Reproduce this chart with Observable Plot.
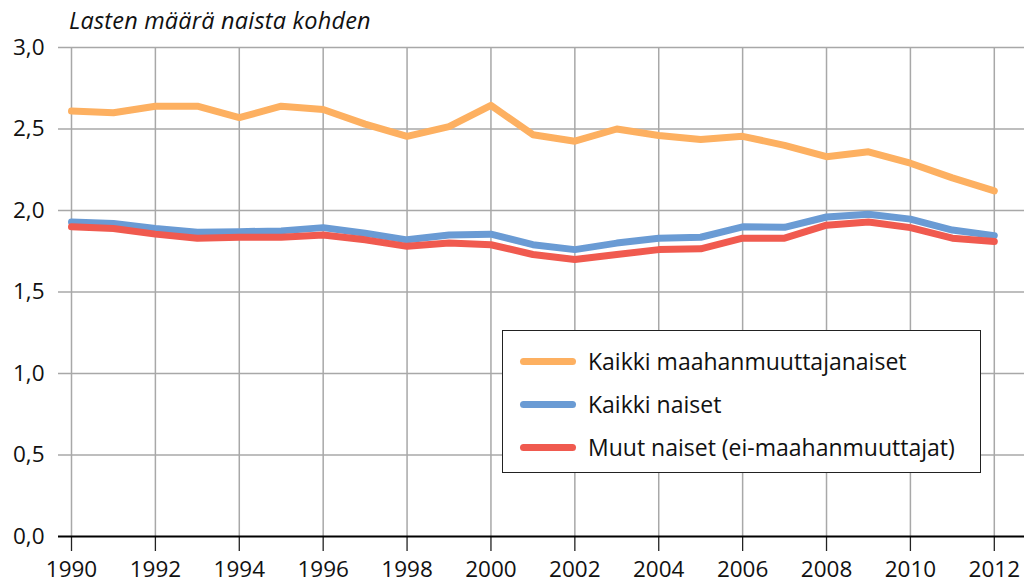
<!DOCTYPE html>
<html>
<head>
<meta charset="utf-8">
<script src="https://cdn.jsdelivr.net/npm/d3@7"></script>
<script src="https://cdn.jsdelivr.net/npm/@observablehq/plot@0.6"></script>
<style>
  html, body { margin: 0; padding: 0; background: #fff; }
  #wrap { position: relative; width: 1024px; height: 586px; font-family: "Open Sans", sans-serif; }
  #title { position: absolute; left: 69px; top: 5px; font-style: italic; font-size: 23.5px; line-height: 30px; color: #111; letter-spacing: 0.2px; }
  #legend { position: absolute; left: 502px; top: 330px; width: 479px; height: 143px; border: 1.5px solid #222; background: #fff; box-sizing: border-box; }
  .row { position: absolute; left: 0; height: 30px; display: flex; align-items: center; font-size: 23px; color: #111; white-space: nowrap; }
  .sw { display: inline-block; width: 56px; height: 7px; border-radius: 4px; margin-left: 17px; margin-right: 12px; }
</style>
</head>
<body>
<div id="wrap">
  <div id="chart"></div>
  <div id="title">Lasten määrä naista kohden</div>
  <div id="legend"></div>
</div>
<script>
const years = [1990,1991,1992,1993,1994,1995,1996,1997,1998,1999,2000,2001,2002,2003,2004,2005,2006,2007,2008,2009,2010,2011,2012];
const seriesNames = ["Kaikki maahanmuuttajanaiset", "Kaikki naiset", "Muut naiset (ei-maahanmuuttajat)"];
const seriesColors = ["#FDB061", "#6A9BD4", "#F05A4F"];
const immigrantWomen = [2.61,2.60,2.64,2.64,2.57,2.64,2.62,2.53,2.455,2.515,2.645,2.465,2.425,2.50,2.46,2.435,2.455,2.40,2.33,2.36,2.29,2.20,2.12];
const allWomen = [1.93,1.92,1.89,1.867,1.87,1.875,1.895,1.86,1.82,1.85,1.855,1.79,1.76,1.80,1.83,1.836,1.90,1.897,1.96,1.977,1.947,1.88,1.846];
const otherWomen = [1.90,1.89,1.855,1.83,1.836,1.836,1.85,1.82,1.78,1.80,1.79,1.73,1.70,1.73,1.76,1.765,1.83,1.83,1.91,1.93,1.895,1.83,1.81];
const yTicks = [0, 0.5, 1.0, 1.5, 2.0, 2.5, 3.0];
const xTicks = [1990,1992,1994,1996,1998,2000,2002,2004,2006,2008,2010,2012];

const valuesBySeries = [immigrantWomen, allWomen, otherWomen];
const data = seriesNames.flatMap((s, i) => years.map((y, j) => ({series: s, year: y, value: valuesBySeries[i][j]})));

const fmt = d => d3.format(".1f")(d).replace(".", ",");

const chart = Plot.plot({
  width: 1024,
  height: 586,
  marginTop: 47,
  marginBottom: 50,
  marginLeft: 58,
  marginRight: 0,
  style: {fontFamily: "Open Sans, sans-serif", fontSize: "22.5px", color: "#111", background: "#fff"},
  x: {domain: [1989.69, 2012.72], label: null},
  y: {domain: [0, 3], label: null},
  color: {domain: seriesNames, range: seriesColors},
  marks: [
    Plot.gridY(yTicks.filter(d => d > 0), {stroke: "#a8a8a8", strokeOpacity: 1, strokeWidth: 1.5}),
    Plot.gridX(xTicks, {stroke: "#a8a8a8", strokeOpacity: 1, strokeWidth: 1.5}),
    Plot.axisX({ticks: xTicks, tickFormat: d => String(d), tickSize: 15, tickPadding: 10, stroke: "#222", strokeWidth: 1.3, fontSize: 22.5}),
    Plot.axisY({ticks: yTicks, tickFormat: fmt, tickSize: 0, tickPadding: 14, fontSize: 22.5}),
    Plot.ruleY([0], {stroke: "#000", strokeWidth: 2}),
    Plot.line(data, {x: "year", y: "value", z: "series", stroke: "series", strokeWidth: 7, strokeLinecap: "round", strokeLinejoin: "round"})
  ]
});
document.getElementById("chart").appendChild(chart);

const legend = document.getElementById("legend");
const rowTops = [15, 58, 101];
seriesNames.forEach((s, i) => {
  const row = document.createElement("div");
  row.className = "row";
  row.style.top = rowTops[i] + "px";
  const sw = document.createElement("span");
  sw.className = "sw";
  sw.style.background = seriesColors[i];
  const t = document.createElement("span");
  t.textContent = s;
  row.appendChild(sw);
  row.appendChild(t);
  legend.appendChild(row);
});
</script>
</body>
</html>
